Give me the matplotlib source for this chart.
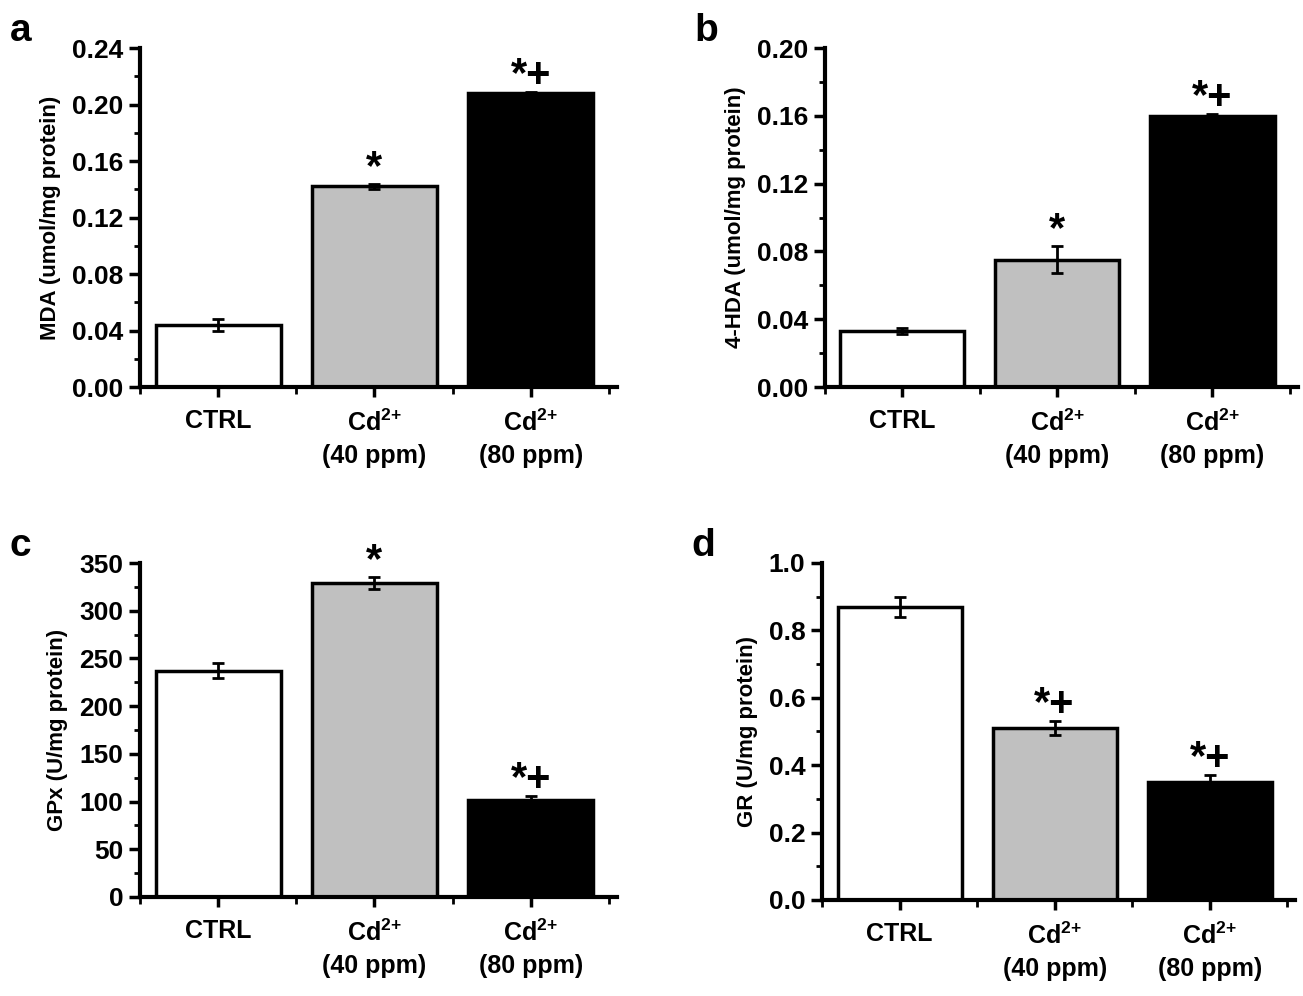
import matplotlib.pyplot as plt
from matplotlib.ticker import MultipleLocator, FixedLocator

plt.rcParams['font.family'] = ['Liberation Sans', 'DejaVu Sans']
plt.rcParams['font.weight'] = 'bold'
plt.rcParams['axes.labelweight'] = 'bold'
plt.rcParams['mathtext.fontset'] = 'custom'
plt.rcParams['mathtext.rm'] = 'Liberation Sans:bold'
plt.rcParams['mathtext.bf'] = 'Liberation Sans:bold'
plt.rcParams['mathtext.default'] = 'bf'

groups = ['CTRL', 'Cd$^{2{+}}$\n(40 ppm)', 'Cd$^{2{+}}$\n(80 ppm)']
bar_colors = ['white', '#c0c0c0', 'black']

mda = [0.044, 0.142, 0.208]
mda_err = [0.004, 0.002, 0.001]
hda = [0.033, 0.075, 0.160]
hda_err = [0.002, 0.008, 0.001]
gpx = [237, 329, 102]
gpx_err = [8, 6, 4]
gr = [0.87, 0.51, 0.35]
gr_err = [0.03, 0.02, 0.02]

marks_ab = ['', '*', '*+']
marks_c = ['', '*', '*+']
marks_d = ['', '*+', '*+']

panels = [
    ('a', mda, mda_err, 'MDA (umol/mg protein)', 0.24, 0.04, '%.2f', marks_ab, [0.1074, 0.6114, 0.366, 0.3404]),
    ('b', hda, hda_err, '4-HDA (umol/mg protein)', 0.20, 0.04, '%.2f', marks_ab, [0.633, 0.6114, 0.363, 0.3404]),
    ('c', gpx, gpx_err, 'GPx (U/mg protein)', 350, 50, '%d', marks_c, [0.1074, 0.0994, 0.366, 0.3353]),
    ('d', gr, gr_err, 'GR (U/mg protein)', 1.0, 0.2, '%.1f', marks_d, [0.6309, 0.0964, 0.363, 0.3384]),
]

fig = plt.figure(figsize=(13.03, 9.96), dpi=100)

for letter, vals, errs, ylabel, ymax, step, fmt, marks, rect in panels:
    ax = fig.add_axes(rect)
    x = range(len(vals))
    ax.bar(x, vals, width=0.8, color=bar_colors, edgecolor='black', linewidth=2.5, zorder=2)
    ax.errorbar(x, vals, yerr=errs, fmt='none', ecolor='black', elinewidth=2, capsize=4, capthick=2, zorder=3)
    for i, m in enumerate(marks):
        if m:
            ax.text(i, vals[i] + errs[i] - ymax * 0.012, m, ha='center', va='bottom', fontsize=30)
    ax.set_xlim(-0.5, 2.55)
    ax.set_ylim(0, ymax)
    ax.spines[['top', 'right']].set_visible(False)
    ax.spines[['left', 'bottom']].set_linewidth(3)
    ax.set_xticks(list(x))
    ax.set_xticklabels(groups, fontsize=18, linespacing=1.45)
    ax.xaxis.set_minor_locator(FixedLocator([-0.5, 0.5, 1.5, 2.5]))
    ax.yaxis.set_major_locator(MultipleLocator(step))
    ax.yaxis.set_minor_locator(MultipleLocator(step / 2))
    ax.yaxis.set_major_formatter(plt.FormatStrFormatter(fmt))
    ax.tick_params(axis='y', which='major', length=8, width=2.5, labelsize=19, pad=4)
    ax.tick_params(axis='y', which='minor', length=4, width=2)
    ax.tick_params(axis='x', which='major', length=7, width=2.5, pad=9)
    ax.tick_params(axis='x', which='minor', length=5, width=2)
    ax.set_ylabel(ylabel, fontsize=16, labelpad=8)
    fig.text(rect[0] - 0.1, rect[1] + rect[3] + 0.017, letter, fontsize=28, ha='left', va='center')

fig.savefig('out.png', dpi=100)
